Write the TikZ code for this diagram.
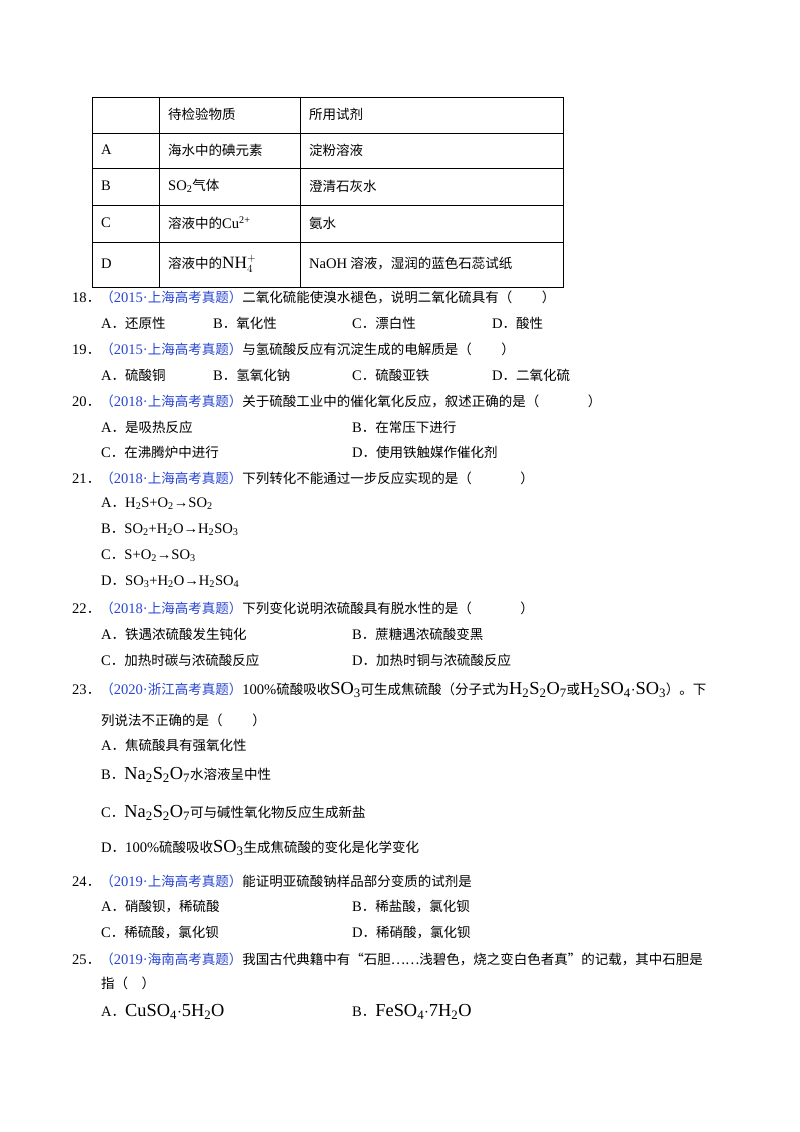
\documentclass[tikz,border=0pt]{standalone}
\usepackage{fontspec}
\setmainfont{Noto Sans CJK SC}
\newfontfamily\tm{Liberation Serif}[Scale=1.08]
\definecolor{src}{RGB}{40,70,210}
\newcommand{\sbs}[1]{\textsubscript{#1}}
\newcommand{\lt}[1]{{\tm #1}}
\newcommand{\bg}[1]{{\tm\fontsize{17}{17}\selectfont #1}}
\newcommand{\md}{{\tm\textperiodcentered}}
\begin{document}
\begin{tikzpicture}[x=1pt,y=-1pt]
\tikzset{tx/.style={anchor=west,inner sep=0pt,font=\fontsize{13.5}{15}\selectfont}}
\useasboundingbox (0,0) rectangle (800,1132);
\fill[white] (0,0) rectangle (800,1132);
% table
\draw[line width=1pt] (92,97) rectangle (563,287);
\foreach \yy in {133,168,205,242} \draw[line width=1pt] (92,\yy) -- (563,\yy);
\draw[line width=1pt] (159,97) -- (159,287);
\draw[line width=1pt] (300,97) -- (300,287);
\node[tx] (h1) at (168,114) {待检验物质};
\node[tx] (h2) at (309,114) {所用试剂};
\node[tx] (ra) at (101,150) {\lt{A}};
\node[tx] (ra2) at (168,150) {海水中的碘元素};
\node[tx] (ra3) at (309,150) {淀粉溶液};
\node[tx] (rb) at (101,186) {\lt{B}};
\node[tx] (rb2) at (168,186) {\lt{SO\sbs{2}}气体};
\node[tx] (rb3) at (309,186) {澄清石灰水};
\node[tx] (rc) at (101,223) {\lt{C}};
\node[tx] (rc2) at (168,223) {溶液中的\lt{Cu\textsuperscript{2+}}};
\node[tx] (rc3) at (309,223) {氨水};
\node[tx] (rd) at (101,264) {\lt{D}};
\node[tx] (rd2) at (168,264) {溶液中的{\tm\fontsize{16}{16}\selectfont NH$^{+}_{4}$}};
\node[tx] (rd3) at (309,264) {\lt{NaOH} 溶液，湿润的蓝色石蕊试纸};
% 18
\node[tx] (q18) at (72,297) {\lt{18}．{\color{src}（\lt{2015}\md 上海高考真题）}二氧化硫能使溴水褪色，说明二氧化硫具有（\hspace{2.2em}）};
\node[tx] (a18) at (101,323) {\lt{A}．还原性};
\node[tx] (b18) at (213,323) {\lt{B}．氧化性};
\node[tx] (c18) at (352,323) {\lt{C}．漂白性};
\node[tx] (d18) at (492,323) {\lt{D}．酸性};
% 19
\node[tx] (q19) at (72,349) {\lt{19}．{\color{src}（\lt{2015}\md 上海高考真题）}与氢硫酸反应有沉淀生成的电解质是（\hspace{2.2em}）};
\node[tx] (a19) at (101,375) {\lt{A}．硫酸铜};
\node[tx] (b19) at (213,375) {\lt{B}．氢氧化钠};
\node[tx] (c19) at (352,375) {\lt{C}．硫酸亚铁};
\node[tx] (d19) at (492,375) {\lt{D}．二氧化硫};
% 20
\node[tx] (q20) at (72,401) {\lt{20}．{\color{src}（\lt{2018}\md 上海高考真题）}关于硫酸工业中的催化氧化反应，叙述正确的是（\hspace{3.6em}）};
\node[tx] (a20) at (101,427) {\lt{A}．是吸热反应};
\node[tx] (b20) at (352,427) {\lt{B}．在常压下进行};
\node[tx] (c20) at (101,452) {\lt{C}．在沸腾炉中进行};
\node[tx] (d20) at (352,452) {\lt{D}．使用铁触媒作催化剂};
% 21
\node[tx] (q21) at (72,478) {\lt{21}．{\color{src}（\lt{2018}\md 上海高考真题）}下列转化不能通过一步反应实现的是（\hspace{3.6em}）};
\node[tx] (a21) at (101,504) {\lt{A}．\lt{H\sbs{2}S+O\sbs{2}→SO\sbs{2}}};
\node[tx] (b21) at (101,530) {\lt{B}．\lt{SO\sbs{2}+H\sbs{2}O→H\sbs{2}SO\sbs{3}}};
\node[tx] (c21) at (101,556) {\lt{C}．\lt{S+O\sbs{2}→SO\sbs{3}}};
\node[tx] (d21) at (101,582) {\lt{D}．\lt{SO\sbs{3}+H\sbs{2}O→H\sbs{2}SO\sbs{4}}};
% 22
\node[tx] (q22) at (72,608) {\lt{22}．{\color{src}（\lt{2018}\md 上海高考真题）}下列变化说明浓硫酸具有脱水性的是（\hspace{3.6em}）};
\node[tx] (a22) at (101,634) {\lt{A}．铁遇浓硫酸发生钝化};
\node[tx] (b22) at (352,634) {\lt{B}．蔗糖遇浓硫酸变黑};
\node[tx] (c22) at (101,660) {\lt{C}．加热时碳与浓硫酸反应};
\node[tx] (d22) at (352,660) {\lt{D}．加热时铜与浓硫酸反应};
% 23
\node[tx] (q23) at (72,690) {\lt{23}．{\color{src}（\lt{2020}\md 浙江高考真题）}\lt{100\%}硫酸吸收\bg{SO\sbs{3}}可生成焦硫酸（分子式为\bg{H\sbs{2}S\sbs{2}O\sbs{7}}或\bg{H\sbs{2}SO\sbs{4}$\cdot$SO\sbs{3}}）。下};
\node[tx] (q23b) at (101,720) {列说法不正确的是（\hspace{2.2em}）};
\node[tx] (a23) at (101,745) {\lt{A}．焦硫酸具有强氧化性};
\node[tx] (b23) at (101,775) {\lt{B}．\bg{Na\sbs{2}S\sbs{2}O\sbs{7}}水溶液呈中性};
\node[tx] (c23) at (101,813) {\lt{C}．\bg{Na\sbs{2}S\sbs{2}O\sbs{7}}可与碱性氧化物反应生成新盐};
\node[tx] (d23) at (101,848) {\lt{D}．\lt{100\%}硫酸吸收\bg{SO\sbs{3}}生成焦硫酸的变化是化学变化};
% 24
\node[tx] (q24) at (72,881) {\lt{24}．{\color{src}（\lt{2019}\md 上海高考真题）}能证明亚硫酸钠样品部分变质的试剂是};
\node[tx] (a24) at (101,907) {\lt{A}．硝酸钡，稀硫酸};
\node[tx] (b24) at (352,907) {\lt{B}．稀盐酸，氯化钡};
\node[tx] (c24) at (101,933) {\lt{C}．稀硫酸，氯化钡};
\node[tx] (d24) at (352,933) {\lt{D}．稀硝酸，氯化钡};
% 25
\node[tx] (q25) at (72,959) {\lt{25}．{\color{src}（\lt{2019}\md 海南高考真题）}我国古代典籍中有“石胆……浅碧色，烧之变白色者真”的记载，其中石胆是};
\node[tx] (q25b) at (101,983) {指（\hspace{1em}）};
\node[tx] (a25) at (101,1012) {\lt{A}．\bg{CuSO\sbs{4}$\cdot$5H\sbs{2}O}};
\node[tx] (b25) at (352,1012) {\lt{B}．\bg{FeSO\sbs{4}$\cdot$7H\sbs{2}O}};
\end{tikzpicture}
\end{document}
